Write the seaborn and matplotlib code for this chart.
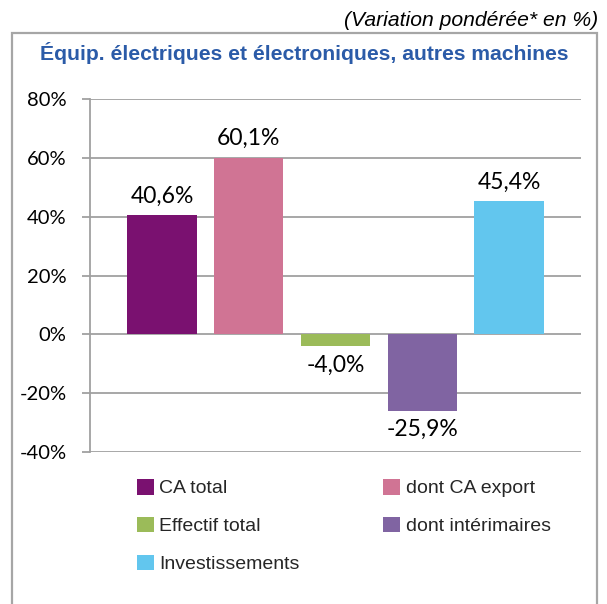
import matplotlib
matplotlib.use("Agg")
import matplotlib.pyplot as plt
import seaborn as sns
import pandas as pd
from matplotlib.patches import Rectangle

# Données (variation pondérée en %)
series = ["CA total", "dont CA export", "Effectif total", "dont intérimaires", "Investissements"]
values = [40.6, 60.1, -4.0, -25.9, 45.4]
colors = ["#7A1170", "#D07494", "#9BBB59", "#8064A2", "#62C6EE"]
yticks = [-40, -20, 0, 20, 40, 60, 80]

df = pd.DataFrame({"serie": series, "valeur": values})

sns.set_style("white")
plt.rcParams["font.family"] = ["Lato", "DejaVu Sans"]

W, H = 607, 604
fig = plt.figure(figsize=(W / 100, H / 100), dpi=100)
ax = fig.add_axes([90 / W, 1 - 452 / H, (581 - 90) / W, (452 - 99) / H])

sns.barplot(data=df, x="serie", y="valeur", hue="serie", palette=colors,
            width=0.8, saturation=1, linewidth=0, ax=ax, legend=True)

ax.set_xlim(-0.83, 4.83)
ax.set_ylim(-40, 80)
ax.set_yticks(yticks)
ax.set_yticklabels([f"{t}%" for t in yticks])
ax.set_xticks([])
ax.set_xlabel("")
ax.set_ylabel("")

grid_col = "#A0A0A0"
ax.set_axisbelow(True)
ax.yaxis.grid(True, color=grid_col, linewidth=1.3)
for s in ["top", "right", "bottom"]:
    ax.spines[s].set_visible(False)
ax.spines["left"].set_color(grid_col)
ax.spines["left"].set_linewidth(1.3)
ax.tick_params(axis="y", length=6, width=1.3, color=grid_col, pad=11,
               labelsize=14.5, labelcolor="black", left=True)

# étiquettes de données (virgule décimale)
for cont in ax.containers:
    labs = [f"{b.get_height():.1f}%".replace(".", ",") for b in cont]
    ax.bar_label(cont, labels=labs, padding=6, fontsize=16.5, color="black")

# légende sur deux colonnes, remplie par ligne
leg = ax.get_legend()
h = leg.legend_handles
l = [t.get_text() for t in leg.get_texts()]
order = [0, 2, 4, 1, 3]
ax.legend([h[i] for i in order], [l[i] for i in order], ncol=2,
          loc="upper left", bbox_to_anchor=(137 / W, 1 - 479 / H),
          bbox_transform=fig.transFigure, frameon=False,
          prop={"family": "Liberation Sans", "size": 14},
          handlelength=0.85, handleheight=0.85, handletextpad=0.3,
          columnspacing=4.3, labelspacing=1.0, borderpad=0, borderaxespad=0)

# cadre gris autour du graphique
fig.patches.append(Rectangle((12 / W, -0.1), (597 - 12) / W, (1 - 33 / H) + 0.1,
                             transform=fig.transFigure, fill=False,
                             edgecolor="#A6A6A6", linewidth=1.6))

fig.text(304 / W, 1 - 60 / H, "Équip. électriques et électroniques, autres machines",
         ha="center", va="baseline", fontsize=15.2, fontweight="bold",
         color="#2B5BA8", family="Liberation Sans")
fig.text(598 / W, 1 - 26 / H, "(Variation pondérée* en %)", ha="right",
         va="baseline", fontsize=15.2, fontstyle="italic", color="black",
         family="Liberation Sans")

fig.savefig("out.png", dpi=100)
